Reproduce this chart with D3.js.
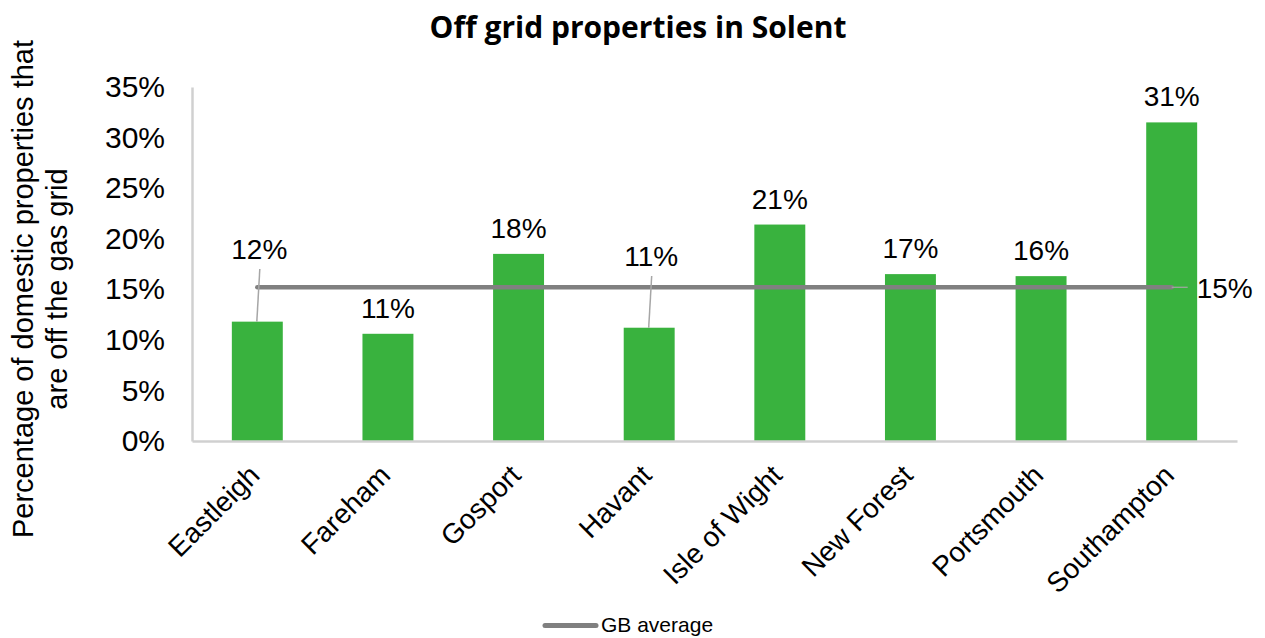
<!DOCTYPE html>
<html>
<head>
<meta charset="utf-8">
<script src="https://cdn.jsdelivr.net/npm/d3@7"></script>
<style>
  body { margin: 0; background: #fff; }
  svg { font-family: 'Liberation Sans', Arial, sans-serif; }
</style>
</head>
<body>
<svg id="chart" width="1265" height="638"></svg>
<script>
(function() {
  'use strict';

  // Data
  let areas = ['Eastleigh', 'Fareham', 'Gosport', 'Havant', 'Isle of Wight', 'New Forest', 'Portsmouth', 'Southampton'];
  let offGrid = [11.8, 10.6, 18.5, 11.2, 21.4, 16.5, 16.3, 31.5];
  let labels = ['12%', '11%', '18%', '11%', '21%', '17%', '16%', '31%'];
  let gbAverage = 15.2;
  let gbLabel = '15%';
  let yTicks = [0, 5, 10, 15, 20, 25, 30, 35];

  let svg = d3.select('#chart');
  let left = 192, right = 1237, top = 87, bottom = 441;
  let font = "'Liberation Sans', Arial, sans-serif";

  let x = d3.scaleBand().domain(areas).range([left, right]).paddingInner(0.61).paddingOuter(0.305);
  let y = d3.scaleLinear().domain([0, 35]).range([bottom, top]);

  // Title
  svg.append('text')
    .attr('x', 638).attr('y', 38)
    .attr('text-anchor', 'middle')
    .style('font-family', "'Open Sans', 'Noto Sans', sans-serif")
    .style('font-weight', 'bold')
    .style('font-size', '30px')
    .text('Off grid properties in Solent');

  // Y axis label, two lines
  let yLabel = svg.append('text')
    .attr('transform', 'translate(33,289) rotate(-90)')
    .attr('text-anchor', 'middle')
    .style('font-size', '29px');
  yLabel.append('tspan').attr('x', 0).attr('y', 0).text('Percentage of domestic properties that');
  yLabel.append('tspan').attr('x', 0).attr('y', 34).text('are off the gas grid');

  // Bars
  svg.append('g').selectAll('rect')
    .data(areas)
    .enter()
    .append('rect')
    .attr('x', d => x(d))
    .attr('width', x.bandwidth())
    .attr('y', (d, i) => y(offGrid[i]))
    .attr('height', (d, i) => y(0) - y(offGrid[i]))
    .style('fill', '#39b23e');

  // Y axis
  let yAxis = svg.append('g')
    .attr('transform', 'translate(' + left + ',0)')
    .call(d3.axisLeft(y).tickValues(yTicks).tickSize(0).tickPadding(27).tickFormat(d => d + '%'));
  yAxis.select('.domain').style('stroke', '#d0d0d0').style('stroke-width', 2.5);
  yAxis.selectAll('text').style('font-size', '30px').style('fill', '#000').style('font-family', font);

  // X axis
  let xAxis = svg.append('g')
    .attr('transform', 'translate(0,' + bottom + ')')
    .call(d3.axisBottom(x).tickSize(0).tickPadding(0));
  xAxis.select('.domain').style('stroke', '#d0d0d0').style('stroke-width', 2.5);
  xAxis.selectAll('text')
    .style('font-size', '28px')
    .style('fill', '#000')
    .style('font-family', font)
    .attr('text-anchor', 'end')
    .attr('x', 0).attr('y', 0).attr('dy', 0)
    .attr('transform', 'translate(4,36) rotate(-45)');

  // GB average line
  let firstX = x(areas[0]) + x.bandwidth() / 2;
  let lastX = x(areas[areas.length - 1]) + x.bandwidth() / 2;
  svg.append('line')
    .attr('x1', firstX).attr('x2', lastX)
    .attr('y1', y(gbAverage)).attr('y2', y(gbAverage))
    .style('stroke', '#808080')
    .style('stroke-width', 4.5)
    .style('stroke-linecap', 'round');
  svg.append('line')
    .attr('x1', lastX).attr('x2', lastX + 16)
    .attr('y1', y(gbAverage)).attr('y2', y(gbAverage))
    .style('stroke', '#a6a6a6')
    .style('stroke-width', 1.2);
  svg.append('text')
    .attr('x', lastX + 25).attr('y', y(gbAverage) + 10.5)
    .style('font-size', '28px')
    .text(gbLabel);

  // Bar labels; two sit above the average line with leader lines
  let lifted = { 'Eastleigh': 259, 'Havant': 266 };
  areas.forEach((d, i) => {
    let cx = x(d) + x.bandwidth() / 2;
    let isLifted = lifted[d] !== undefined;
    let base = isLifted ? lifted[d] : y(offGrid[i]) - 16;
    svg.append('text')
      .attr('x', isLifted ? cx + 2 : cx).attr('y', base)
      .attr('text-anchor', 'middle')
      .style('font-size', '28px')
      .text(labels[i]);
    if (isLifted) {
      svg.append('line')
        .attr('x1', cx + 2.5).attr('y1', base + 10)
        .attr('x2', cx - 0.5).attr('y2', y(offGrid[i]))
        .style('stroke', '#a6a6a6')
        .style('stroke-width', 1.5);
    }
  });

  // Legend
  svg.append('line')
    .attr('x1', 545).attr('x2', 596)
    .attr('y1', 625.5).attr('y2', 625.5)
    .style('stroke', '#808080')
    .style('stroke-width', 5)
    .style('stroke-linecap', 'round');
  svg.append('text')
    .attr('x', 601).attr('y', 632)
    .style('font-size', '21px')
    .text('GB average');
})();
</script>
</body>
</html>
